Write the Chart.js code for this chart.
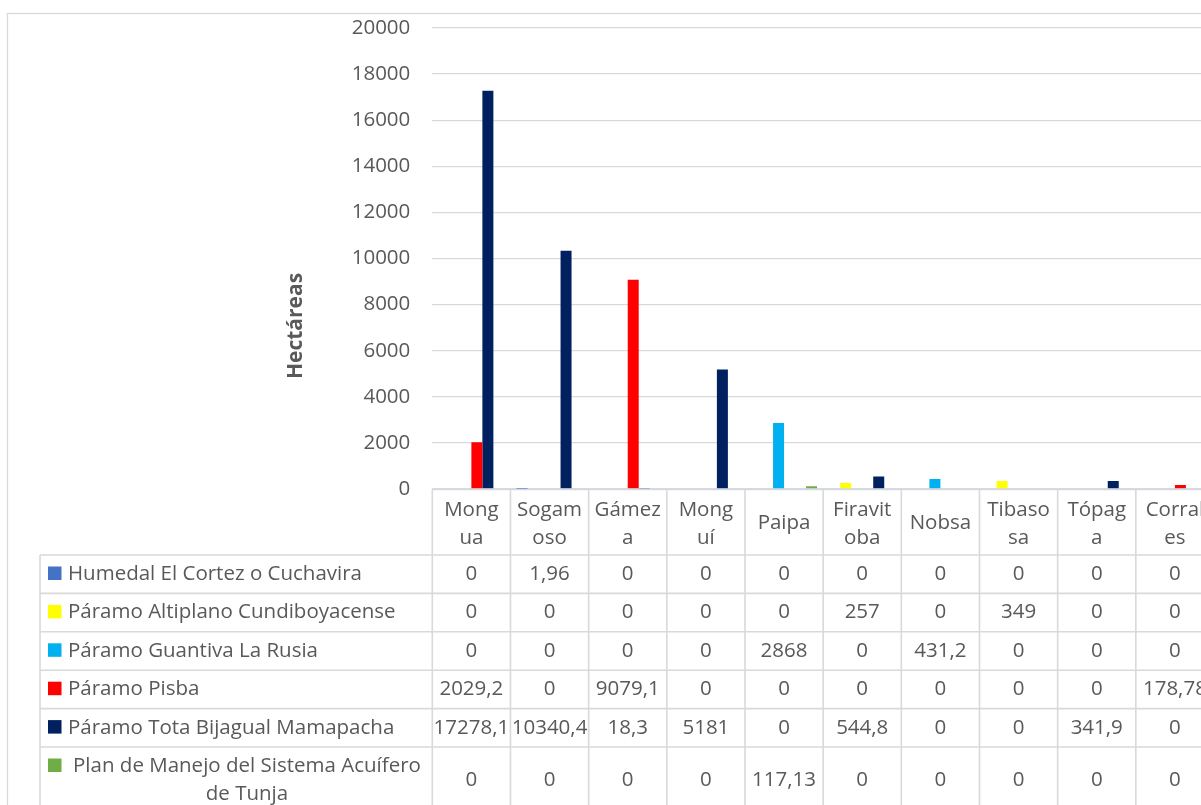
<!DOCTYPE html>
<html>
<head>
<meta charset="utf-8">
<script src="https://cdn.jsdelivr.net/npm/chart.js@4.4.1/dist/chart.umd.min.js"></script>
<style>
  html, body { margin: 0; padding: 0; overflow: hidden; background: #ffffff; }
  canvas { display: block; }
</style>
</head>
<body>
<canvas id="c" width="1222" height="805" style="width:1222px;height:805px"></canvas>
<script>
// Municipios (wrapped the way they appear in the table header)
const municipios = [["Mong", "ua"], ["Sogam", "oso"], ["Gámez", "a"], ["Mong", "uí"], ["Paipa"],
                    ["Firavit", "oba"], ["Nobsa"], ["Tibaso", "sa"], ["Tópag", "a"], ["Corral", "es"]];

// Hectáreas por área protegida y municipio
const humedalCortez = [0, 1.96, 0, 0, 0, 0, 0, 0, 0, 0];
const altiplanoCundiboyacense = [0, 0, 0, 0, 0, 257, 0, 349, 0, 0];
const guantivaLaRusia = [0, 0, 0, 0, 2868, 0, 431.2, 0, 0, 0];
const paramoPisba = [2029.2, 0, 9079.1, 0, 0, 0, 0, 0, 0, 178.78];
const totaBijagual = [17278.1, 10340.4, 18.3, 5181, 0, 544.8, 0, 0, 341.9, 0];
const acuiferoTunja = [0, 0, 0, 0, 117.13, 0, 0, 0, 0, 0];

const seriesNames = [
  ["Humedal El Cortez o Cuchavira"],
  ["Páramo Altiplano Cundiboyacense"],
  ["Páramo Guantiva La Rusia"],
  ["Páramo Pisba"],
  ["Páramo Tota Bijagual Mamapacha"],
  ["Plan de Manejo del Sistema Acuífero", "de Tunja"]
];
const seriesColors = ["#4472C4", "#FFFF00", "#00B0F0", "#FF0000", "#002060", "#70AD47"];
const seriesValues = [humedalCortez, altiplanoCundiboyacense, guantivaLaRusia, paramoPisba, totaBijagual, acuiferoTunja];

// Eje Y
const yMin = 0, yMax = 20000, yStep = 2000;
const yTitle = "Hectáreas";

const FONT = '"Open Sans", "Noto Sans", sans-serif';
const FONT_SIZE = 20.5;
const TEXT = "#595959";
const LINE = "#d9d9d9";

// Spanish decimal comma for the table cells
const fmt = v => String(v).replace(".", ",");

// Chart frame + rotated axis title
const framePlugin = {
  id: "frame",
  beforeDraw(chart) {
    const ctx = chart.ctx;
    ctx.save();
    ctx.fillStyle = "#ffffff";
    ctx.fillRect(0, 0, chart.width, chart.height);
    ctx.strokeStyle = LINE;
    ctx.lineWidth = 1.3;
    ctx.strokeRect(7.5, 13.5, chart.width + 50, chart.height + 50);
    ctx.restore();
  },
  afterDraw(chart) {
    const ctx = chart.ctx;
    ctx.save();
    ctx.translate(302, 326);
    ctx.rotate(-Math.PI / 2);
    ctx.fillStyle = TEXT;
    ctx.font = "bold 21px " + FONT;
    ctx.textAlign = "center";
    ctx.textBaseline = "alphabetic";
    ctx.fillText(yTitle, 0, 0);
    ctx.restore();
  }
};

// Data table under the plot area, aligned to the category scale
const dataTablePlugin = {
  id: "dataTable",
  afterDraw(chart) {
    const ctx = chart.ctx;
    const area = chart.chartArea;
    const xs = chart.scales.x;
    const labels = chart.data.labels;
    const n = labels.length;
    const cw = (area.right - area.left) / n;
    const centers = labels.map((_, i) => xs.getPixelForValue(i));
    const edges = [area.left].concat(centers.map(c => c + cw / 2));

    const tableLeft = 40;
    const headTop = area.bottom + 0.5;
    const headBottom = headTop + 65.5;
    const rowH = 38.4;
    const rowTops = chart.data.datasets.map((_, i) => headBottom + i * rowH);
    const bottom = chart.height + 5;

    ctx.save();
    ctx.lineWidth = 1.6;

    // header border (top + column separators)
    ctx.beginPath();
    ctx.strokeStyle = "#d3d9e2";
    ctx.moveTo(area.left, headTop);
    ctx.lineTo(chart.width, headTop);
    ctx.stroke();
    ctx.strokeStyle = LINE;
    ctx.beginPath();
    edges.forEach(x => { ctx.moveTo(x, headTop); ctx.lineTo(x, bottom); });
    ctx.moveTo(tableLeft, headBottom); ctx.lineTo(tableLeft, bottom);
    rowTops.forEach(y => { ctx.moveTo(tableLeft, y); ctx.lineTo(chart.width, y); });
    ctx.stroke();

    ctx.fillStyle = TEXT;
    ctx.font = FONT_SIZE + "px " + FONT;
    ctx.textBaseline = "alphabetic";

    // header: municipio names
    ctx.textAlign = "center";
    labels.forEach((lab, i) => {
      const lines = Array.isArray(lab) ? lab : [lab];
      if (lines.length === 1) {
        ctx.fillText(lines[0], centers[i], headTop + 39.5);
      } else {
        ctx.fillText(lines[0], centers[i], headTop + 26.2);
        ctx.fillText(lines[1], centers[i], headTop + 54.5);
      }
    });

    // rows: legend key, series name, values
    chart.data.datasets.forEach((ds, r) => {
      const top = rowTops[r];
      const base = top + 25;
      const names = seriesNames[r];
      ctx.fillStyle = ds.backgroundColor;
      ctx.fillRect(tableLeft + 8, base - 13.5, 13.5, 13.5);
      ctx.fillStyle = TEXT;
      if (names.length === 1) {
        ctx.textAlign = "left";
        ctx.fillText(names[0], tableLeft + 28, base);
      } else {
        ctx.textAlign = "center";
        const mid = (tableLeft + 21.6 + area.left) / 2;
        ctx.fillText(names[0], mid, base);
        ctx.fillText(names[1], mid, base + 28.3);
      }
      ctx.textAlign = "center";
      const vBase = names.length === 1 ? base : base + 14.2;
      ds.data.forEach((v, i) => ctx.fillText(fmt(v), centers[i], vBase));
    });
    ctx.restore();
  }
};

function build() {
  new Chart(document.getElementById("c"), {
    type: "bar",
    data: {
      labels: municipios,
      datasets: seriesValues.map((vals, i) => ({
        label: seriesNames[i].join(" "),
        data: vals,
        backgroundColor: seriesColors[i],
        borderWidth: 0,
        categoryPercentage: 0.844,
        barPercentage: 1.0
      }))
    },
    options: {
      responsive: false,
      animation: false,
      events: [],
      layout: { padding: { top: 28, bottom: 316, left: 0, right: 8 } },
      plugins: { legend: { display: false }, tooltip: { enabled: false }, title: { display: false } },
      scales: {
        x: { display: false, grid: { display: false } },
        y: {
          min: yMin,
          max: yMax,
          border: { display: false },
          grid: { color: LINE, lineWidth: 1.3, drawTicks: false },
          ticks: {
            stepSize: yStep,
            padding: 22,
            color: TEXT,
            font: { family: FONT, size: FONT_SIZE },
            callback: v => String(v)
          },
          afterFit(scale) {
            scale.width = 432.3;
            scale.paddingTop = 0;
            scale.paddingBottom = 0;
          }
        }
      }
    },
    plugins: [framePlugin, dataTablePlugin]
  });
}

if (document.fonts && document.fonts.load) {
  Promise.all([document.fonts.load('20px "Open Sans"'), document.fonts.load('bold 21px "Open Sans"')])
    .then(build, build);
} else {
  build();
}
</script>
</body>
</html>
